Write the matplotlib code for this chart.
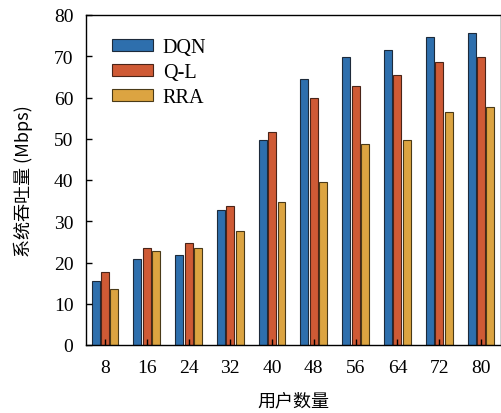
import matplotlib
matplotlib.use('Agg')
import matplotlib.pyplot as plt
import numpy as np

users = [8, 16, 24, 32, 40, 48, 56, 64, 72, 80]
dqn = [15.5, 20.8, 21.8, 32.7, 49.7, 64.5, 69.7, 71.6, 74.7, 75.6]
ql = [17.7, 23.5, 24.7, 33.7, 51.6, 59.8, 62.7, 65.5, 68.5, 69.7]
rra = [13.6, 22.8, 23.5, 27.6, 34.7, 39.6, 48.7, 49.7, 56.6, 57.6]

plt.rcParams['font.family'] = ['Liberation Serif', 'Noto Sans CJK SC']
plt.rcParams['font.size'] = 14

fig = plt.figure(figsize=(5.02, 4.14), dpi=100)
ax = fig.add_axes([86 / 502, (414 - 346) / 414, 415 / 502, 330 / 414])

x = np.arange(len(users))
w = 0.19
off = 0.225
ax.bar(x - off, dqn, w, color='#2e6fad', edgecolor='#1d2a3a', linewidth=0.8, label='DQN')
ax.bar(x, ql, w, color='#cf5a35', edgecolor='#4a2418', linewidth=0.8, label='Q-L')
ax.bar(x + off, rra, w, color='#dca441', edgecolor='#4a3a18', linewidth=0.8, label='RRA')

ax.set_xlim(-0.455, 9.48)
ax.set_ylim(0, 80)
ax.set_xticks(x)
ax.set_xticklabels([str(u) for u in users])
ax.set_yticks(range(0, 81, 10))
ax.tick_params(direction='in', length=4, width=1)
ax.tick_params(axis='x', pad=10)
ax.tick_params(axis='y', pad=9)
for s in ax.spines.values():
    s.set_linewidth(1.0)

ax.set_xlabel('用户数量', family=['Noto Sans CJK SC'], fontsize=13, labelpad=11)
ax.set_ylabel('系统吞吐量 (Mbps)', family=['Noto Sans CJK SC', 'Liberation Serif'], fontsize=13, labelpad=15)

ax.legend(loc='upper left', bbox_to_anchor=(0.02, 0.985), frameon=False, fontsize=14.5,
          handlelength=2.0, handleheight=0.6, labelspacing=0.3, handletextpad=0.5)

fig.savefig('out.png', dpi=100)
